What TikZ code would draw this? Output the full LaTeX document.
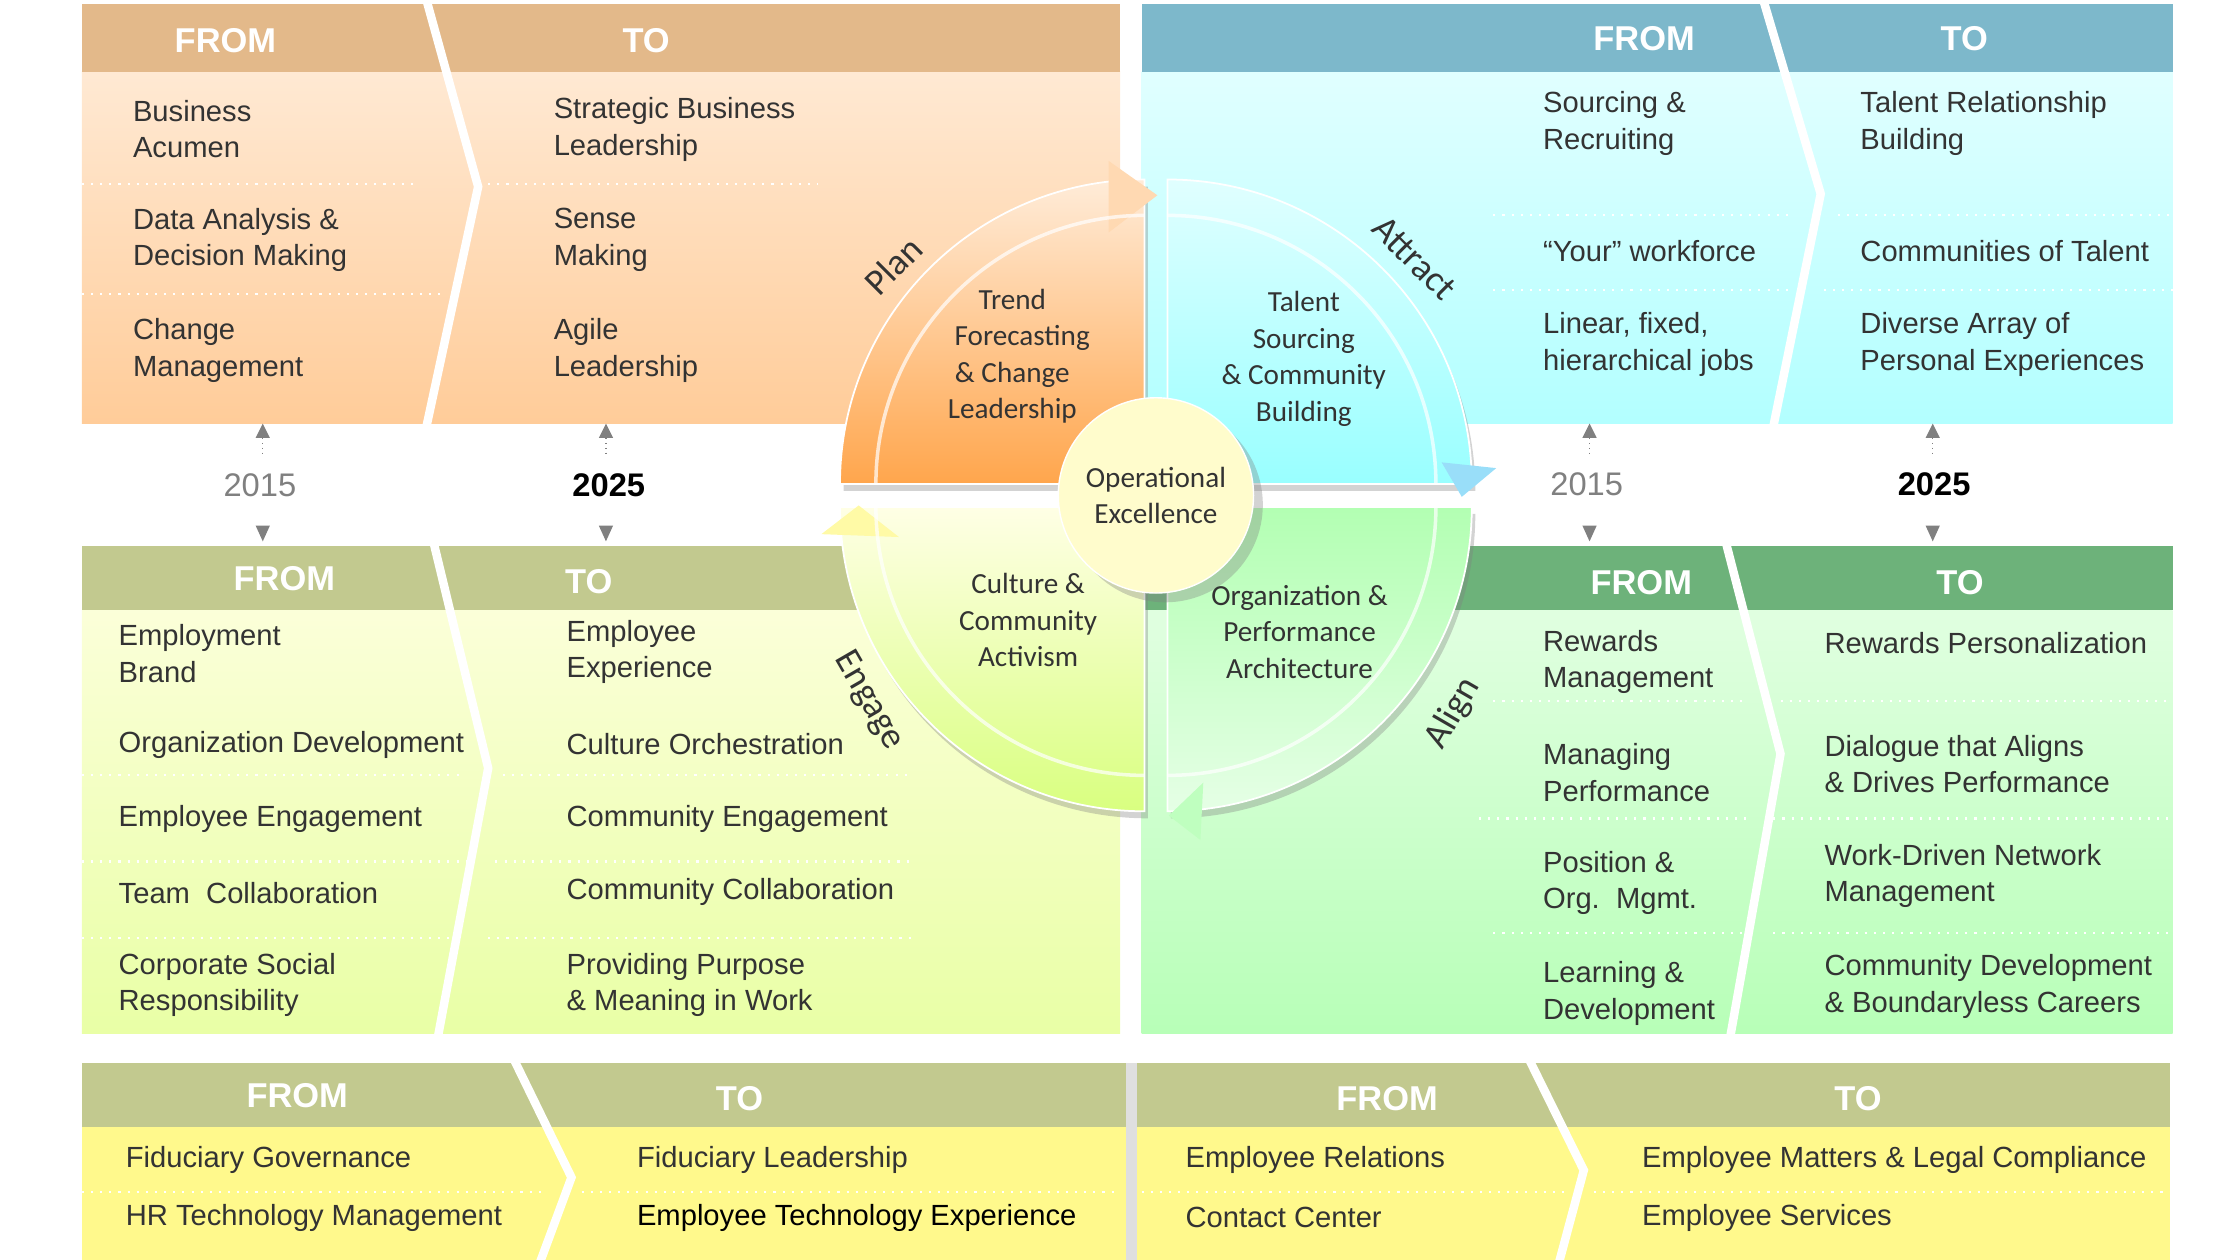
\documentclass[tikz,border=0pt]{standalone}
\usepackage{fontspec}
\setmainfont{Liberation Sans}
\newfontfamily\calfnt{Carlito}
\usetikzlibrary{shadows}
\definecolor{hdtan}{HTML}{E3B98A}
\definecolor{hdblue}{HTML}{7DB8CB}
\definecolor{hdolive}{HTML}{C2C98F}
\definecolor{hdgreen}{HTML}{6DB27A}
\definecolor{txt}{HTML}{333333}
\tikzset{
 hd/.style={text=white,font=\fontsize{9.8}{12}\selectfont\bfseries},
 tx/.style={anchor=west,align=left,text=txt,font=\fontsize{8.3}{10.4}\selectfont},
 qt/.style={align=center,text=txt,font=\calfnt\fontsize{8.3}{10.4}\selectfont},
 chev/.style={white,line width=2.4pt},
 sep/.style={white,line width=0.6pt,dotted},
 yr/.style={font=\fontsize{9.3}{11}\selectfont},
 yarr/.style={gray,densely dotted,thin},
 quad/.style={draw=white,line width=0.5pt,drop shadow={shadow xshift=1pt,shadow yshift=-2pt,opacity=0.35}},
 aw/.style={white,opacity=0.7,line width=1pt},
 ql/.style={text=txt,font=\calfnt\fontsize{10.5}{13}\selectfont}
}
\begin{document}
\begin{tikzpicture}[x=0.01436cm,y=-0.01436cm]
\useasboundingbox (0,0) rectangle (1560,877);
\clip (0,0) rectangle (1560,877);
% top-left
\shade[top color=orange!8!white!90!orange, bottom color=orange!40!white] (57,50) rectangle (780,295);
\fill[hdtan] (57,3) rectangle (780,50);
\draw[chev] (297,0)--(333,130)--(297,297);
\draw[sep] (57,128)--(290,128) (340,128)--(570,128) (57,205)--(310,205);
\node[hd] (h1) at (157,28) {FROM}; \node[hd] (h2) at (450,28) {TO};
\node[tx] (a1) at (84,90) {Business\\Acumen};
\node[tx] (a2) at (84,167) {Data Analysis \&\\Decision Making};
\node[tx] (a3) at (84,244) {Change\\Management};
\node[tx] (b1) at (377,90) {Strategic Business\\Leadership};
\node[tx] (b2) at (377,167) {Sense\\Making};
\node[tx] (b3) at (377,244) {Agile\\Leadership};
% top-right
\shade[top color=cyan!12!white, bottom color=cyan!30!white] (795,50) rectangle (1513,295);
\fill[hdblue] (795,3) rectangle (1513,50);
\draw[chev] (1228,0)--(1268,135)--(1235,297);
\draw[sep] (1040,150)--(1250,150) (1280,150)--(1513,150) (1040,202)--(1250,202) (1270,202)--(1513,202);
\node[hd] (h3) at (1145,27) {FROM}; \node[hd] (h4) at (1368,27) {TO};
\node[tx] (c1) at (1066,86) {Sourcing \&\\Recruiting};
\node[tx] (c2) at (1066,175) {“Your” workforce};
\node[tx] (c3) at (1066,240) {Linear, fixed,\\hierarchical jobs};
\node[tx] (d1) at (1287,86) {Talent Relationship\\Building};
\node[tx] (d2) at (1287,175) {Communities of Talent};
\node[tx] (d3) at (1287,240) {Diverse Array of\\Personal Experiences};
% years
\node[yr,text=gray] (y1) at (181,338) {2015};
\node[yr,font=\fontsize{9.3}{11}\selectfont\bfseries] (y2) at (424,338) {2025};
\node[yr,text=gray] (y3) at (1105,337) {2015};
\node[yr,font=\fontsize{9.3}{11}\selectfont\bfseries] (y4) at (1347,337) {2025};
\foreach \x in {183,422,1107,1346}{
 \draw[yarr] (\x,305) -- (\x,318);
 \fill[gray] (\x-5,305)--(\x+5,305)--(\x,295)--cycle;
 \fill[gray] (\x-5,366)--(\x+5,366)--(\x,377)--cycle;
}
% bottom-left
\shade[top color=green!10!yellow!15!white, bottom color=green!25!yellow!35!white] (57,425) rectangle (780,720);
\fill[hdolive] (57,380) rectangle (780,425);
\draw[chev] (302,378)--(340,535)--(305,722);
\draw[sep] (57,540)--(320,540) (350,540)--(635,540) (57,600)--(325,600) (345,600)--(635,600) (57,653)--(315,653) (340,653)--(635,653);
\node[hd] (h5) at (198,403) {FROM}; \node[hd] (h6) at (410,405) {TO};
\node[tx] (e1) at (74,455) {Employment\\Brand};
\node[tx] (e2) at (74,519) {Organization Development};
\node[tx] (e3) at (74,570) {Employee Engagement};
\node[tx] (e4) at (74,622) {Team\ \ Collaboration};
\node[tx] (e5) at (74,686) {Corporate Social\\Responsibility};
\node[tx] (f1) at (386,454) {Employee\\Experience};
\node[tx] (f2) at (386,518) {Culture Orchestration};
\node[tx] (f3) at (386,570) {Community Engagement};
\node[tx] (f4) at (386,621) {Community Collaboration};
\node[tx] (f5) at (386,686) {Providing Purpose\\\& Meaning in Work};
% bottom-right
\shade[top color=green!12!white, bottom color=green!28!white] (795,425) rectangle (1513,720);
\fill[hdgreen] (795,380) rectangle (1513,425);
\draw[chev] (1202,378)--(1240,525)--(1205,722);
\draw[sep] (1040,488)--(1215,488) (1240,488)--(1513,488) (1030,570)--(1220,570) (1235,570)--(1513,570) (1040,650)--(1215,650) (1235,650)--(1513,650);
\node[hd] (h7) at (1143,406) {FROM}; \node[hd] (h8) at (1365,406) {TO};
\node[tx] (g1) at (1066,461) {Rewards\\Management};
\node[tx] (g2) at (1066,538) {Managing\\Performance};
\node[tx] (g3) at (1066,615) {Position \&\\Org.\ \ Mgmt.};
\node[tx] (g4) at (1066,692) {Learning \&\\Development};
\node[tx] (k1) at (1262,448) {Rewards Personalization};
\node[tx] (k2) at (1262,532) {Dialogue that Aligns\\\& Drives Performance};
\node[tx] (k3) at (1262,610) {Work-Driven Network\\Management};
\node[tx] (k4) at (1262,687) {Community Development\\\& Boundaryless Careers};
% bottom strip
\fill[yellow!45!white] (57,785) rectangle (1511,880);
\fill[hdolive] (57,740) rectangle (1511,785);
\fill[gray!25] (784,740) rectangle (792,880);
\draw[chev] (358,738)--(398,820)--(375,882);
\draw[chev] (1065,738)--(1103,815)--(1085,882);
\draw[sep] (57,830)--(380,830) (405,830)--(780,830) (795,830)--(1090,830) (1110,830)--(1511,830);
\node[hd] (h9) at (207,763) {FROM}; \node[hd] (h10) at (515,765) {TO};
\node[hd] (h11) at (966,765) {FROM}; \node[hd] (h12) at (1294,765) {TO};
\node[tx] (m1) at (79,808) {Fiduciary Governance};
\node[tx] (m2) at (79,848) {HR Technology Management};
\node[tx] (n1) at (435,808) {Fiduciary Leadership};
\node[tx,text=black] (n2) at (435,848) {Employee Technology Experience};
\node[tx] (p1) at (817,808) {Employee Relations};
\node[tx] (p2) at (817,848) {Contact Center};
\node[tx] (q1) at (1135,808) {Employee Matters \& Legal Compliance};
\node[tx] (q2) at (1135,848) {Employee Services};
% circle quadrants
\shade[quad,top color=orange!15!white,bottom color=orange!70!white] (797,337)--++(-212,0) arc[start angle=180,end angle=270,radius=212]--cycle;
\fill[orange!30!white] (772,112)--(806,136)--(772,162)--cycle;
\shade[quad,top color=cyan!12!white,bottom color=cyan!40!white] (813,337)--++(0,-212) arc[start angle=270,end angle=360,radius=212]--cycle;
\fill[cyan!40!white] (1004,322)--(1042,326)--(1018,346)--cycle;
\shade[quad,top color=green!30!white,bottom color=green!10!white] (813,353)--++(212,0) arc[start angle=0,end angle=90,radius=212]--cycle;
\fill[green!25!white] (838,545)--(814,568)--(836,585)--cycle;
\shade[quad,top color=yellow!10!white,bottom color=green!30!yellow!50!white] (797,353)--++(0,212) arc[start angle=90,end angle=180,radius=212]--cycle;
\fill[yellow!35!white] (572,372)--(598,352)--(626,374)--cycle;
\draw[aw] (610,337) arc[start angle=180,end angle=270,radius=187];
\draw[aw] (813,150) arc[start angle=270,end angle=360,radius=187];
\draw[aw] (1000,353) arc[start angle=0,end angle=90,radius=187];
\draw[aw] (797,540) arc[start angle=90,end angle=180,radius=187];
\node[circle,minimum size=136*0.01436cm,fill=yellow!20!white,draw=white,drop shadow={opacity=0.35},qt] (oe) at (805,345) {Operational\\Excellence};
\node[qt] (t1) at (705,248) {Trend\\\ \ \ Forecasting\\\& Change\\Leadership};
\node[qt] (t2) at (908,250) {Talent\\Sourcing\\\& Community\\Building};
\node[qt] (t3) at (716,432) {Culture \&\\Community\\Activism};
\node[qt] (t4) at (905,440) {Organization \&\\Performance\\Architecture};
\node[ql,rotate=45] (l1) at (622,185) {Plan};
\node[ql,rotate=-45] (l2) at (985,180) {Attract};
\node[ql,rotate=60] (l3) at (1012,497) {Align};
\node[ql,rotate=-60] (l4) at (605,488) {Engage};
\end{tikzpicture}
\end{document}
